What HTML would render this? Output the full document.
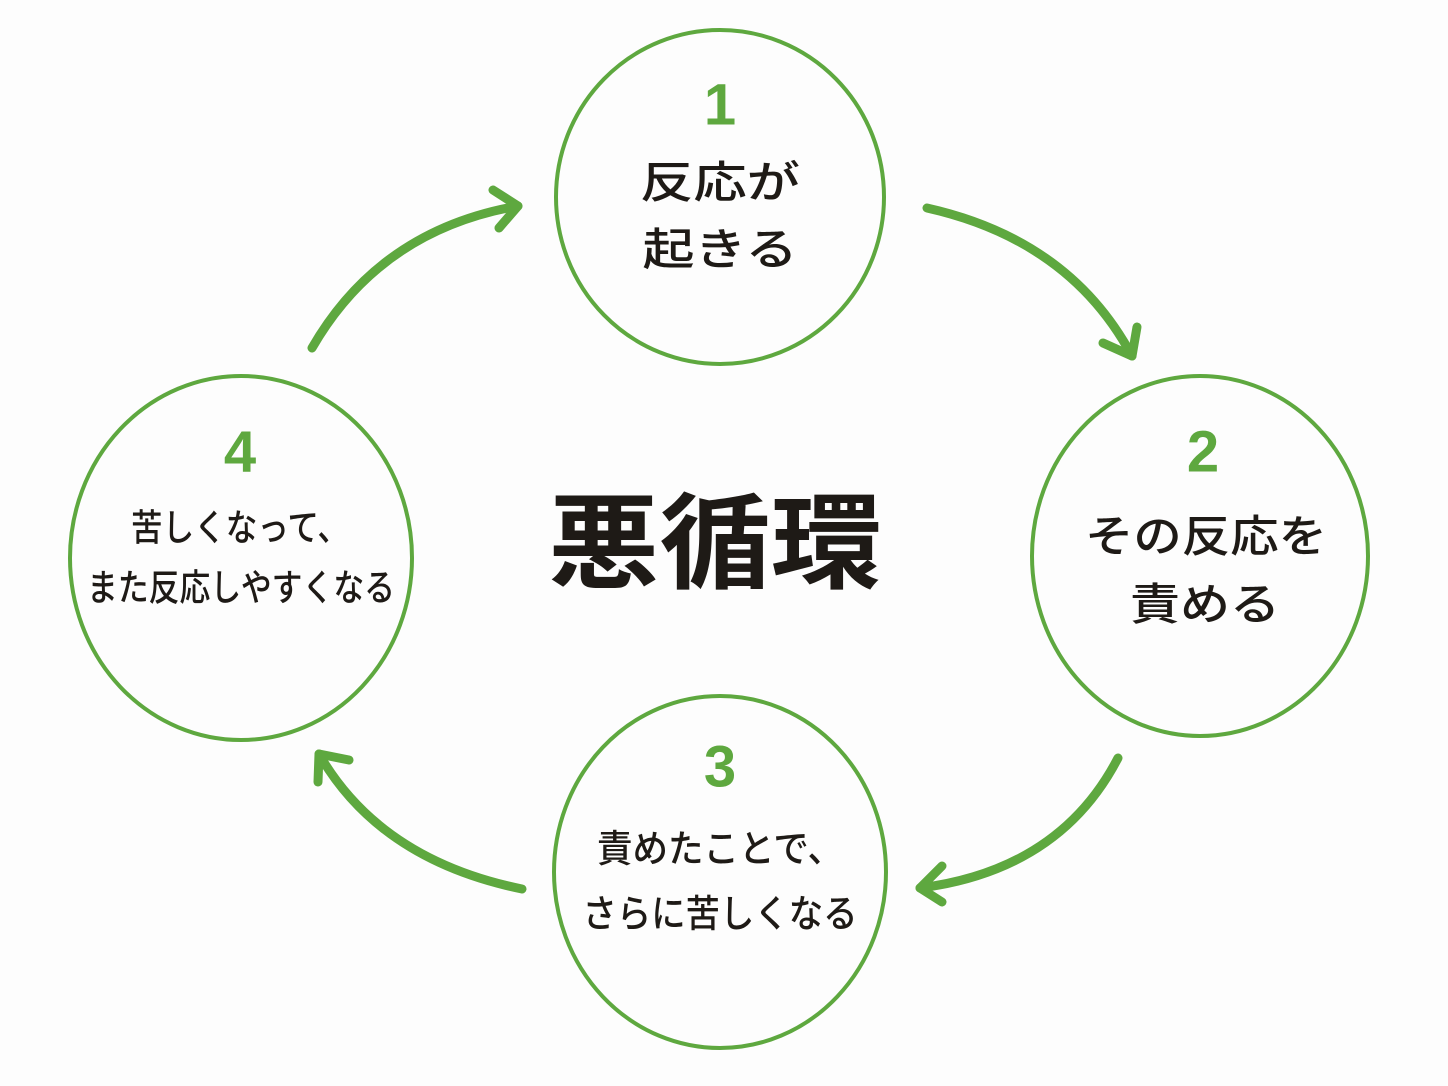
<!DOCTYPE html>
<html><head><meta charset="utf-8"><style>
html,body{margin:0;padding:0;background:#fdfdfd;}
svg{display:block}
text{font-family:"Liberation Sans","Noto Sans CJK JP",sans-serif;}
.t{font-size:44px;fill:#1e1a16;font-weight:500;text-anchor:middle;dominant-baseline:central}
.n{font-size:58px;fill:#5ea83f;font-weight:bold;text-anchor:middle;dominant-baseline:central}
</style></head><body>
<svg width="1448" height="1086" viewBox="0 0 1448 1086" xmlns="http://www.w3.org/2000/svg">
<g fill="none" stroke="#5ea83f" stroke-width="4">
<ellipse cx="720" cy="197" rx="164" ry="167"/>
<ellipse cx="1200" cy="556" rx="168" ry="180"/>
<ellipse cx="720" cy="872" rx="166" ry="176"/>
<ellipse cx="241" cy="558" rx="171" ry="182"/>
</g>
<g fill="none" stroke="#5ea83f" stroke-width="9" stroke-linecap="round" stroke-linejoin="round">
<path d="M927,208 Q1070,240 1132,356"/>
<path d="M1103,343 L1132,356 L1137,327"/>
<path d="M1118,758 Q1060,870 920,888"/>
<path d="M942,866 L920,888 L942,902"/>
<path d="M522,889 Q380,860 319,754"/>
<path d="M318,782 L319,754 L349,760"/>
<path d="M312,348 Q380,230 518,206"/>
<path d="M493,190 L518,206 L499,228"/>
</g>
<text class="n" x="720" y="105">1</text>
<text class="n" x="1203" y="452">2</text>
<text class="n" x="720" y="767">3</text>
<text class="n" x="240" y="452">4</text>
<text class="t" x="720" y="183" textLength="160" lengthAdjust="spacingAndGlyphs">反応が</text>
<text class="t" x="720" y="250" textLength="155" lengthAdjust="spacingAndGlyphs">起きる</text>
<text class="t" x="1206" y="537" textLength="242" lengthAdjust="spacingAndGlyphs">その反応を</text>
<text class="t" x="1205" y="605" textLength="150" lengthAdjust="spacingAndGlyphs">責める</text>
<text class="t" x="720" y="850" style="font-size:38px" textLength="246" lengthAdjust="spacingAndGlyphs">責めたことで、</text>
<text class="t" x="720" y="915" style="font-size:38px" textLength="275" lengthAdjust="spacingAndGlyphs">さらに苦しくなる</text>
<text class="t" x="240" y="528" style="font-size:37px" textLength="218" lengthAdjust="spacingAndGlyphs">苦しくなって、</text>
<text class="t" x="241" y="588" style="font-size:37px" textLength="308" lengthAdjust="spacingAndGlyphs">また反応しやすくなる</text>
<text x="715" y="545" style="font-size:104px;font-weight:bold;fill:#1e1a16;text-anchor:middle;dominant-baseline:central" textLength="334" lengthAdjust="spacingAndGlyphs">悪循環</text>
</svg>
</body></html>
